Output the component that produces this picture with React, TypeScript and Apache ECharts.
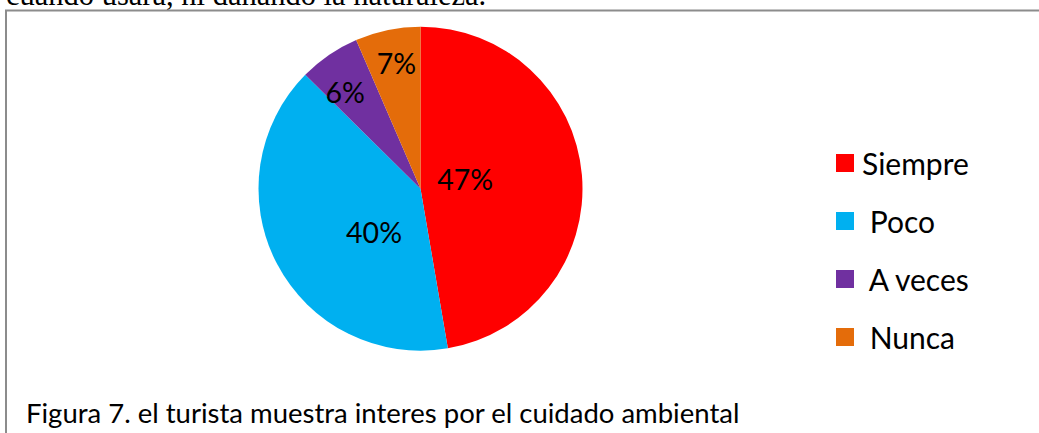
import React, { useEffect, useRef } from "react";
import * as echarts from "echarts";

const categories = ["Siempre", "Poco", "A veces", "Nunca"];
const values = [47.3, 40.1, 6.1, 6.5];
const colors = ["#FF0000", "#00B0F0", "#7030A0", "#E46C0A"];
const labelNudge = [
  [-39, -3],
  [28, 4],
  [-28, -27],
  [-7, -43],
];
const topText = "cuando usara, ni dañando la naturaleza.";
const caption = "Figura 7. el turista muestra interes por el cuidado ambiental";

export default function App() {
  const ref = useRef<HTMLDivElement>(null);
  useEffect(() => {
    if (!ref.current) return;
    const chart = echarts.init(ref.current, null, { renderer: "svg" });
    const font = "Lato, 'Open Sans', sans-serif";
    chart.setOption({
      animation: false,
      backgroundColor: "#ffffff",
      legend: {
        orient: "vertical",
        left: 831,
        top: 143,
        icon: "rect",
        itemWidth: 18,
        itemHeight: 18,
        itemGap: 28,
        selectedMode: false,
        data: categories,
        formatter: (name: string) => (name === categories[0] ? name : " " + name),
        textStyle: {
          fontFamily: font,
          fontSize: 30,
          lineHeight: 30,
          color: "#000",
          padding: [0, 0, 0, 3],
        },
      },
      graphic: [
        {
          type: "text",
          x: 6,
          y: -5,
          style: {
            text: topText,
            fontFamily: "'Liberation Serif', 'DejaVu Serif', serif",
            fontSize: 30.5,
            fill: "#000",
            verticalAlign: "middle",
          },
        },
        {
          type: "line",
          shape: { x1: 5, y1: 10.5, x2: 1039, y2: 10.5 },
          style: { stroke: "#8c8c8c", lineWidth: 2 },
        },
        {
          type: "line",
          shape: { x1: 6, y1: 10, x2: 6, y2: 433 },
          style: { stroke: "#8c8c8c", lineWidth: 2 },
        },
        {
          type: "text",
          x: 26,
          y: 412,
          style: {
            text: caption,
            fontFamily: font,
            fontSize: 27.5,
            fill: "#000",
            verticalAlign: "middle",
          },
        },
      ],
      series: [
        {
          type: "pie",
          center: [420.5, 188.7],
          radius: 162,
          startAngle: 90,
          clockwise: true,
          label: {
            show: true,
            position: "inside",
            formatter: (p: any) => Math.round(p.percent) + "%",
            fontFamily: font,
            fontSize: 28.5,
            color: "#000",
          },
          labelLayout: (p: any) => ({
            dx: labelNudge[p.dataIndex][0],
            dy: labelNudge[p.dataIndex][1],
          }),
          labelLine: { show: false },
          emphasis: { disabled: true },
          itemStyle: { borderWidth: 0 },
          data: categories.map((c, i) => ({
            name: c,
            value: values[i],
            itemStyle: { color: colors[i] },
          })),
        },
      ],
    });
    return () => chart.dispose();
  }, []);
  return (
    <div
      ref={ref}
      style={{ position: "fixed", left: 0, top: 0, width: 1039, height: 433 }}
    />
  );
}
